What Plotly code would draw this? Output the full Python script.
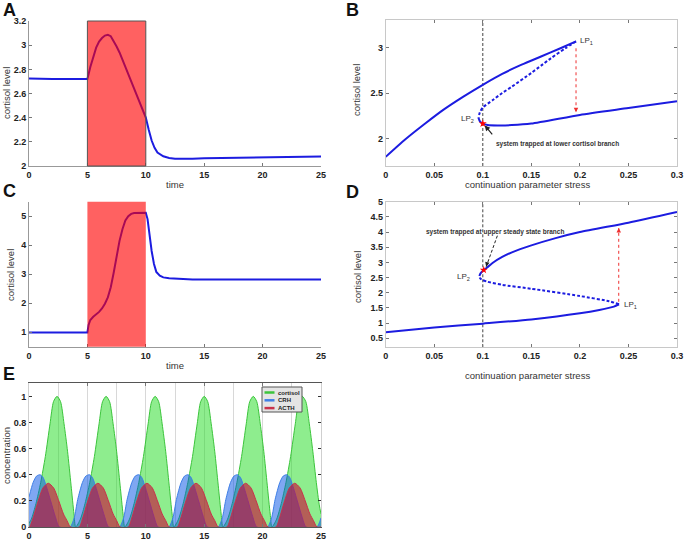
import plotly.graph_objects as go

# ---- panel A: cortisol time course (trapped at lower branch)
time_A = [0, 1, 2, 3, 4, 5, 5.25, 5.5, 5.75, 6.0, 6.25, 6.5, 6.75, 7.0, 7.25, 7.5, 7.75, 8.0,
          8.5, 9.0, 9.5, 10.0, 10.25, 10.5, 10.75, 11.0, 11.5, 12.0, 12.5, 13.0,
          14.0, 15.0, 17.5, 20.0, 22.5, 25.0]
cort_A = [2.725, 2.72, 2.72, 2.72, 2.72, 2.72, 2.82, 2.91, 2.98, 3.03, 3.06, 3.08, 3.087, 3.075,
          3.035, 2.99, 2.94, 2.88, 2.76, 2.64, 2.52, 2.40, 2.30, 2.21, 2.15, 2.11, 2.08, 2.066,
          2.06, 2.058, 2.06, 2.063, 2.068, 2.073, 2.076, 2.078]
stress_window = [5, 10]

# ---- panel C: cortisol time course (trapped at upper branch)
time_C = [0, 1, 2, 3, 4, 5, 5.1, 5.25, 5.5, 5.75, 6.0, 6.25, 6.5, 6.75, 7.0, 7.25, 7.5, 7.75,
          8.0, 8.25, 8.5, 8.75, 9.0, 9.5, 10.0, 10.15, 10.3, 10.5, 10.7, 10.9, 11.2, 11.5,
          12.0, 13.0, 14.0, 25.0]
cort_C = [0.99, 0.99, 0.99, 0.99, 0.99, 0.99, 1.25, 1.42, 1.53, 1.60, 1.70, 1.82, 1.98, 2.2,
          2.55, 3.05, 3.6, 4.15, 4.55, 4.85, 5.0, 5.08, 5.11, 5.12, 5.12, 4.9, 4.4, 3.8, 3.35,
          3.08, 2.95, 2.89, 2.86, 2.83, 2.82, 2.82]

# ---- panel B: bifurcation diagram
stress_B_up = [0, 0.02, 0.04, 0.06, 0.08, 0.10, 0.12, 0.14, 0.16, 0.18, 0.196]
cort_B_up = [1.80, 1.99, 2.16, 2.32, 2.46, 2.59, 2.71, 2.81, 2.90, 2.99, 3.065]
stress_B_mid = [0.196, 0.185, 0.17, 0.16, 0.15, 0.13, 0.12, 0.11, 0.10, 0.097, 0.0955]
cort_B_mid = [3.065, 2.99, 2.88, 2.80, 2.72, 2.57, 2.50, 2.42, 2.34, 2.29, 2.23]
stress_B_low = [0.0955, 0.0972, 0.1, 0.105, 0.115, 0.13, 0.15, 0.2, 0.25, 0.3]
cort_B_low = [2.23, 2.185, 2.165, 2.15, 2.145, 2.148, 2.165, 2.26, 2.335, 2.41]
star_B = (0.1, 2.165)
drop_B_s = [0.196, 0.196]
drop_B_c = [2.99, 2.29]
note_B_s = [0.111, 0.102]
note_B_c = [2.03, 2.145]

# ---- panel D: bifurcation diagram
stress_D_low = [0, 0.05, 0.1, 0.15, 0.2, 0.22, 0.235, 0.2403]
cort_D_low = [0.70, 0.85, 0.98, 1.12, 1.32, 1.43, 1.54, 1.62]
stress_D_mid = [0.2403, 0.23, 0.2, 0.15, 0.12, 0.105, 0.0995, 0.0972, 0.0965]
cort_D_mid = [1.62, 1.72, 1.89, 2.13, 2.26, 2.36, 2.42, 2.48, 2.55]
stress_D_up = [0.0965, 0.0975, 0.1, 0.104, 0.11, 0.12, 0.13, 0.15, 0.175, 0.2, 0.25, 0.3]
cort_D_up = [2.55, 2.63, 2.72, 2.82, 2.98, 3.18, 3.33, 3.56, 3.8, 4.0, 4.31, 4.66]
star_D = (0.101, 2.75)
jump_D_s = [0.24, 0.24]
jump_D_c = [1.70, 4.13]
note_D_s = [0.115, 0.1035]
note_D_c = [3.88, 2.86]

# ---- panel E: oscillations
cortisol_t = [0, 0.2, 0.6, 1.0, 1.4, 1.8, 2.1, 2.4, 2.7, 3.0, 3.3, 3.6, 3.85, 4.0,
              4.4, 4.8, 5.2, 5.6, 6.0, 6.3, 6.6, 6.9, 7.2, 7.5, 7.8, 8.05, 8.2,
              8.6, 9.0, 9.4, 9.8, 10.2, 10.5, 10.8, 11.1, 11.4, 11.7, 12.0, 12.25, 12.4,
              12.8, 13.2, 13.6, 14.0, 14.4, 14.7, 15.0, 15.3, 15.6, 15.9, 16.2, 16.45, 16.6,
              17.0, 17.4, 17.8, 18.2, 18.6, 18.9, 19.2, 19.5, 19.8, 20.1, 20.4, 20.65, 20.8,
              21.2, 21.6, 22.0, 22.4, 22.8, 23.1, 23.4, 23.7, 24.0, 24.3, 24.6, 24.85, 25.0]
cortisol_v = [0.03, 0.06, 0.18, 0.34, 0.54, 0.79, 0.96, 1.0, 0.96, 0.79, 0.58, 0.32, 0.1, 0.0,
              0.06, 0.18, 0.34, 0.54, 0.79, 0.96, 1.0, 0.96, 0.79, 0.58, 0.32, 0.1, 0.0,
              0.06, 0.18, 0.34, 0.54, 0.79, 0.96, 1.0, 0.96, 0.79, 0.58, 0.32, 0.1, 0.0,
              0.06, 0.18, 0.34, 0.54, 0.79, 0.96, 1.0, 0.96, 0.79, 0.58, 0.32, 0.1, 0.0,
              0.06, 0.18, 0.34, 0.54, 0.79, 0.96, 1.0, 0.96, 0.79, 0.58, 0.32, 0.1, 0.0,
              0.06, 0.18, 0.34, 0.54, 0.79, 0.96, 1.0, 0.96, 0.79, 0.58, 0.34, 0.17, 0.1]
crh_t = [0, 0.35, 0.65, 0.95, 1.2, 1.45, 1.85, 2.25, 2.6,
         3.52, 3.87, 4.17, 4.57, 4.87, 5.17, 5.42, 5.67, 6.07, 6.47, 6.82,
         7.75, 8.1, 8.4, 8.8, 9.1, 9.4, 9.65, 9.9, 10.3, 10.7, 11.05,
         11.97, 12.32, 12.62, 13.02, 13.32, 13.62, 13.87, 14.12, 14.52, 14.92, 15.27,
         16.2, 16.55, 16.85, 17.25, 17.55, 17.85, 18.1, 18.35, 18.75, 19.15, 19.5,
         20.42, 20.77, 21.07, 21.47, 21.77, 22.07, 22.32, 22.57, 22.97, 23.37, 23.72,
         24.65, 25.0]
crh_v = [0.23, 0.34, 0.39, 0.40, 0.38, 0.32, 0.20, 0.08, 0.0,
         0.0, 0.07, 0.21, 0.34, 0.39, 0.40, 0.38, 0.32, 0.20, 0.08, 0.0,
         0.0, 0.07, 0.21, 0.34, 0.39, 0.40, 0.38, 0.32, 0.20, 0.08, 0.0,
         0.0, 0.07, 0.21, 0.34, 0.39, 0.40, 0.38, 0.32, 0.20, 0.08, 0.0,
         0.0, 0.07, 0.21, 0.34, 0.39, 0.40, 0.38, 0.32, 0.20, 0.08, 0.0,
         0.0, 0.07, 0.21, 0.34, 0.39, 0.40, 0.38, 0.32, 0.20, 0.08, 0.0,
         0.0, 0.07]
acth_t = [0, 0.05, 0.35, 0.75, 1.2, 1.65, 2.1, 2.55, 2.95, 3.25, 3.55,
          4.3, 4.6, 5.0, 5.45, 5.9, 6.35, 6.8, 7.2, 7.5, 7.8,
          8.5, 8.8, 9.2, 9.65, 10.1, 10.55, 11.0, 11.4, 11.7, 12.0,
          12.7, 13.0, 13.4, 13.85, 14.3, 14.75, 15.2, 15.6, 15.9, 16.2,
          16.95, 17.25, 17.65, 18.1, 18.55, 19.0, 19.45, 19.85, 20.15, 20.45,
          21.15, 21.45, 21.85, 22.3, 22.75, 23.2, 23.65, 24.05, 24.35, 24.65,
          25.0]
acth_v = [0.0, 0.0, 0.07, 0.19, 0.30, 0.335, 0.30, 0.20, 0.10, 0.05, 0.0,
          0.0, 0.07, 0.19, 0.30, 0.335, 0.30, 0.20, 0.10, 0.05, 0.0,
          0.0, 0.07, 0.19, 0.30, 0.335, 0.30, 0.20, 0.10, 0.05, 0.0,
          0.0, 0.07, 0.19, 0.30, 0.335, 0.30, 0.20, 0.10, 0.05, 0.0,
          0.0, 0.07, 0.19, 0.30, 0.335, 0.30, 0.20, 0.10, 0.05, 0.0,
          0.0, 0.07, 0.19, 0.30, 0.335, 0.30, 0.20, 0.10, 0.05, 0.0,
          0.0]
series_E = ["cortisol", "CRH", "ACTH"]

W, H = 685, 540
BLUE = "#1c1ce0"
FONT = "Liberation Sans, Arial, sans-serif"
E_LINE = ["#3cc43c", "#3f7fe6", "#c8324a"]
E_FILL = ["rgba(30,220,30,0.5)", "rgba(0,80,230,0.5)", "rgba(205,0,50,0.6)"]


def fx(p):
    return p / W


def fy(p):
    return 1 - p / H


fig = go.Figure()

# A / C time courses
fig.add_trace(go.Scatter(x=time_A, y=cort_A, mode="lines", line=dict(color=BLUE, width=2),
                         xaxis="x", yaxis="y"))
fig.add_trace(go.Scatter(x=time_C, y=cort_C, mode="lines", line=dict(color=BLUE, width=2),
                         xaxis="x3", yaxis="y3"))

# B / D branches
for (xs, ys, dash, ax) in [(stress_B_up, cort_B_up, "solid", "2"),
                           (stress_B_mid, cort_B_mid, "3px,2px", "2"),
                           (stress_B_low, cort_B_low, "solid", "2"),
                           (stress_D_low, cort_D_low, "solid", "4"),
                           (stress_D_mid, cort_D_mid, "3px,2px", "4"),
                           (stress_D_up, cort_D_up, "solid", "4")]:
    fig.add_trace(go.Scatter(x=xs, y=ys, mode="lines",
                             line=dict(color=BLUE, width=2, dash=dash, shape="spline", smoothing=0.6),
                             xaxis="x" + ax, yaxis="y" + ax))

# red dashed jumps
fig.add_trace(go.Scatter(x=drop_B_s, y=drop_B_c, mode="lines",
                         line=dict(color="#ee3030", width=1, dash="dot"),
                         xaxis="x2", yaxis="y2"))
fig.add_trace(go.Scatter(x=jump_D_s, y=jump_D_c, mode="lines",
                         line=dict(color="#ee3030", width=1, dash="dot"),
                         xaxis="x4", yaxis="y4"))
# black dashed pointer in D
fig.add_trace(go.Scatter(x=note_D_s, y=note_D_c, mode="lines",
                         line=dict(color="#222", width=1, dash="3px,2px"),
                         xaxis="x4", yaxis="y4"))
# stars
fig.add_trace(go.Scatter(x=[star_B[0]], y=[star_B[1]], mode="markers",
                         marker=dict(symbol="star", color="red", size=6),
                         xaxis="x2", yaxis="y2"))
fig.add_trace(go.Scatter(x=[star_D[0]], y=[star_D[1]], mode="markers",
                         marker=dict(symbol="star", color="red", size=6),
                         xaxis="x4", yaxis="y4"))

# E oscillations
for name, ts, vs, lc, fc in zip(series_E, [cortisol_t, crh_t, acth_t],
                                [cortisol_v, crh_v, acth_v], E_LINE, E_FILL):
    fig.add_trace(go.Scatter(x=ts, y=vs, name=name, mode="lines",
                             line=dict(color=lc, width=1, shape="spline", smoothing=0.7),
                             fill="tozeroy", fillcolor=fc, xaxis="x5", yaxis="y5"))

tickfont = dict(family=FONT, size=9, color="#222", weight="bold")


def axis(dom, rng, anchor, linecolor="#999", mirror=False, **kw):
    d = dict(domain=dom, range=rng, anchor=anchor, showgrid=False, zeroline=False,
             showline=True, linecolor=linecolor, linewidth=1, mirror=mirror,
             ticks="inside", ticklen=3, tickcolor="#777", tickfont=tickfont,
             automargin=False, fixedrange=True)
    d.update(kw)
    return d


xA = [fx(29), fx(321)]
xB = [fx(385.7), fx(677)]

fig.update_layout(
    width=W, height=H, margin=dict(l=0, r=0, t=0, b=0),
    paper_bgcolor="white", plot_bgcolor="white", template="none", showlegend=False,
    xaxis=axis(xA, [0, 25], "y", tickvals=[0, 5, 10, 15, 20, 25]),
    yaxis=axis([fy(166), fy(21)], [1.999, 3.201], "x",
               tickvals=[2, 2.2, 2.4, 2.6, 2.8, 3, 3.2]),
    xaxis2=axis(xB, [0, 0.3], "y2", linecolor="#c8c8c8", mirror="ticks",
                tickvals=[0, 0.05, 0.1, 0.15, 0.2, 0.25, 0.3]),
    yaxis2=axis([fy(166), fy(20)], [1.7, 3.3], "x2", linecolor="#c8c8c8", mirror="ticks",
                tickvals=[2, 2.5, 3]),
    xaxis3=axis(xA, [0, 25], "y3", tickvals=[0, 5, 10, 15, 20, 25]),
    yaxis3=axis([fy(346.7), fy(201.7)], [0.5, 5.5], "x3", tickvals=[1, 2, 3, 4, 5]),
    xaxis4=axis(xB, [0, 0.3], "y4", linecolor="#c8c8c8", mirror="ticks",
                tickvals=[0, 0.05, 0.1, 0.15, 0.2, 0.25, 0.3]),
    yaxis4=axis([fy(347.3), fy(201.7)], [0.2, 5.001], "x4", linecolor="#c8c8c8", mirror="ticks",
                tickvals=[0.5, 1, 1.5, 2, 2.5, 3, 3.5, 4, 4.5, 5]),
    xaxis5=axis(xA, [0, 25], "y5", linecolor="#555", mirror="ticks",
                tickvals=[0, 5, 10, 15, 20, 25], showgrid=True, gridcolor="#d8d8d8",
                minor=dict(dtick=2.5, tick0=0, showgrid=True, gridcolor="#d8d8d8")),
    yaxis5=axis([fy(527), fy(383.3)], [0, 1.1], "x5", linecolor="#cfcfcf", mirror="ticks",
                tickcolor="#333", tickvals=[0, 0.2, 0.4, 0.6, 0.8, 1]),
)

# stress window rectangles and reference lines
fig.add_shape(type="rect", xref="x", yref="y domain", x0=stress_window[0], x1=stress_window[1],
              y0=0, y1=1, fillcolor="rgba(255,0,0,0.62)", line=dict(color="#555", width=1),
              layer="above")
fig.add_shape(type="rect", xref="x3", yref="y3 domain", x0=stress_window[0], x1=stress_window[1],
              y0=0, y1=1, fillcolor="rgba(255,0,0,0.62)", line=dict(width=0), layer="above")
for ax in ["2", "4"]:
    fig.add_shape(type="line", xref="x" + ax, yref="y%s domain" % ax, x0=0.1, x1=0.1, y0=0, y1=1,
                  line=dict(color="#444", width=1, dash="3px,2px"), layer="below")

# legend box for E (drawn by hand to get the compact MATLAB look)
fig.add_shape(type="rect", xref="paper", yref="paper", x0=fx(262), x1=fx(302),
              y0=fy(412), y1=fy(387), fillcolor="#e4e4e4", line=dict(color="#555", width=1),
              layer="above")
for i, (name, lc) in enumerate(zip(series_E, E_LINE)):
    py = 392.5 + 7.8 * i
    fig.add_shape(type="line", xref="paper", yref="paper", x0=fx(264.5), x1=fx(274.5),
                  y0=fy(py), y1=fy(py), line=dict(color=lc, width=2.5), layer="above")
    fig.add_annotation(x=fx(276), y=fy(py), xref="paper", yref="paper", text=name,
                       xanchor="left", yanchor="middle", showarrow=False,
                       font=dict(family=FONT, size=6, color="#222", weight="bold"))

small = dict(family=FONT, size=6.5, color="#333", weight="bold")
lp = dict(family=FONT, size=8, color="#333")

# arrows
fig.add_annotation(x=drop_B_s[1], y=drop_B_c[1], ax=drop_B_s[1], ay=drop_B_c[1] + 0.05,
                   xref="x2", yref="y2", axref="x2", ayref="y2", text="", showarrow=True,
                   arrowhead=2, arrowsize=0.9, arrowwidth=1, arrowcolor="#ee3030")
fig.add_annotation(x=jump_D_s[1], y=jump_D_c[1], ax=jump_D_s[1], ay=jump_D_c[1] - 0.15,
                   xref="x4", yref="y4", axref="x4", ayref="y4", text="", showarrow=True,
                   arrowhead=2, arrowsize=0.9, arrowwidth=1, arrowcolor="#ee3030")
fig.add_annotation(x=note_B_s[1], y=note_B_c[1], ax=note_B_s[0], ay=note_B_c[0],
                   xref="x2", yref="y2", axref="x2", ayref="y2", text="", showarrow=True,
                   arrowhead=2, arrowsize=0.9, arrowwidth=1.2, arrowcolor="#222")
fig.add_annotation(x=note_D_s[1], y=note_D_c[1], ax=note_D_s[1] + 0.001, ay=note_D_c[1] + 0.12,
                   xref="x4", yref="y4", axref="x4", ayref="y4", text="", showarrow=True,
                   arrowhead=2, arrowsize=0.9, arrowwidth=1, arrowcolor="#222")

# point labels
fig.add_annotation(x=0.112, y=1.945, xref="x2", yref="y2", xanchor="left", showarrow=False,
                   text="system trapped at lower cortisol branch", font=small)
fig.add_annotation(x=0.1125, y=4.0, xref="x4", yref="y4", xanchor="center", showarrow=False,
                   text="system trapped at upper steady state branch", font=small)
fig.add_annotation(x=0.198, y=3.07, xref="x2", yref="y2", xanchor="left", showarrow=False,
                   text="LP<sub>1</sub>", font=lp)
fig.add_annotation(x=0.093, y=2.22, xref="x2", yref="y2", xanchor="right", showarrow=False,
                   text="LP<sub>2</sub>", font=lp)
fig.add_annotation(x=0.243, y=1.6, xref="x4", yref="y4", xanchor="left", showarrow=False,
                   text="LP<sub>1</sub>", font=lp)
fig.add_annotation(x=0.089, y=2.53, xref="x4", yref="y4", xanchor="right", showarrow=False,
                   text="LP<sub>2</sub>", font=lp)

# axis titles and panel letters
title_font = dict(family=FONT, size=9.5, color="#333")
titles = [("cortisol level", 6, 93, -90), ("time", 175, 184, 0),
          ("cortisol level", 357, 90, -90), ("continuation parameter stress", 527, 184, 0),
          ("cortisol level", 10, 275, -90), ("time", 175, 365, 0),
          ("cortisol level", 357, 277, -90), ("continuation parameter stress", 527, 375, 0),
          ("concentration", 6, 456, -90)]
for txt, px, py, ang in titles:
    fig.add_annotation(x=fx(px), y=fy(py), xref="paper", yref="paper", text=txt,
                       textangle=ang, showarrow=False, xanchor="center", yanchor="middle",
                       font=title_font)

letter_font = dict(family=FONT, size=18, color="#111", weight="bold")
for txt, px, py in [("A", 9, 10), ("B", 353, 10), ("C", 9, 191), ("D", 353, 192), ("E", 9, 374)]:
    fig.add_annotation(x=fx(px), y=fy(py), xref="paper", yref="paper", text=txt,
                       showarrow=False, xanchor="center", yanchor="middle", font=letter_font)

# the page body has a default 8px margin; drop it so the figure sits at the window corner
fig.write_html("out.html", config={"displayModeBar": False},
               post_script="document.body.style.margin='0px';")
